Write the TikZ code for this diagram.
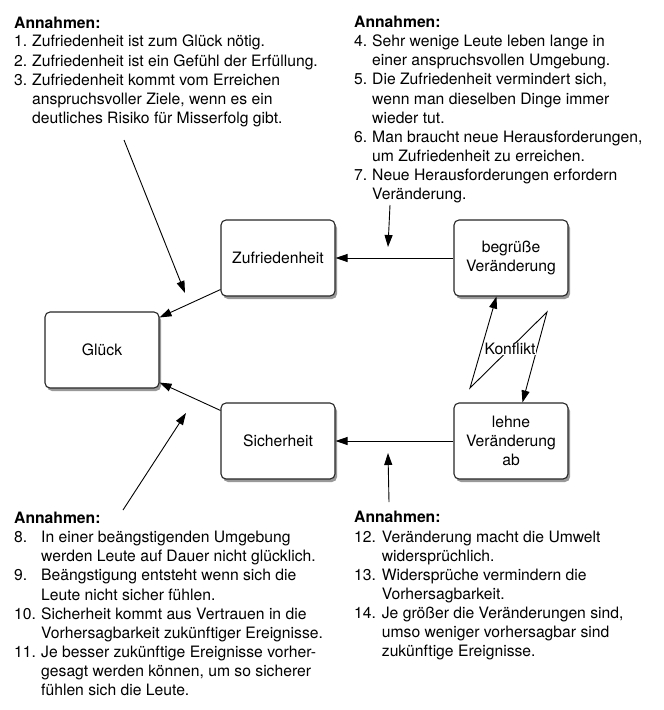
\documentclass[tikz,border=0pt]{standalone}
\usepackage{fontspec}
\setmainfont{TeX Gyre Heros}
\usetikzlibrary{arrows.meta,shadows}
\newcommand{\dfont}{\fontsize{15.7pt}{19pt}\selectfont}
\begin{document}
\begin{tikzpicture}[x=1pt,y=-1pt,
  box/.style={draw=black!85, line width=1.1pt, rounded corners=5pt, fill=white,
    minimum width=114pt, minimum height=76pt, align=center, font=\dfont, inner sep=2pt,
    drop shadow={shadow xshift=2pt, shadow yshift=-3pt, opacity=0.4, fill=black}},
  arr/.style={-{Triangle[length=12pt,width=8pt]}, line width=0.9pt},
  dbl/.style={{Triangle[length=12pt,width=8pt]}-{Triangle[length=12pt,width=8pt]}, line width=0.9pt},
  txt/.style={anchor=base west, inner sep=0pt, font=\dfont},
  hd/.style={txt, font=\dfont\bfseries},
]
\useasboundingbox (0,0) rectangle (664,710);

% boxes
\node[box] (gl) at (102,350) {Glück};
\node[box] (zuf) at (278,258) {Zufriedenheit};
\node[box] (sic) at (278,441) {Sicherheit};
\node[box] (beg) at (511,258) {begrüße\\Veränderung};
\node[box] (leh) at (511,441) {lehne\\Veränderung\\ab};

% connectors
\draw[arr] (beg.west) -- (zuf.east);
\draw[arr] (leh.west) -- (sic.east);
\draw[arr] ([yshift=7pt]zuf.south west) -- ([yshift=-6pt]gl.north east);
\draw[arr] ([yshift=-8pt]sic.north west) -- ([yshift=6pt]gl.south east);

% annotation arrows
\coordinate (a1s) at (124,140); \coordinate (a1e) at (185,293);
\coordinate (a2s) at (390,205); \coordinate (a2e) at (388,247);
\coordinate (a3s) at (123,510); \coordinate (a3e) at (186,413);
\coordinate (a4s) at (389,502); \coordinate (a4e) at (388,453);
\draw[arr] (a1s) -- (a1e);
\draw[arr] (a2s) -- (a2e);
\draw[arr] (a3s) -- (a3e);
\draw[arr] (a4s) -- (a4e);

% conflict
\coordinate (k1) at (470,388); \coordinate (k2) at (547,312);
\draw[dbl] ([xshift=43pt]beg.south west) -- (k1) -- (k2) -- ([xshift=69pt]leh.north west);
\node[fill=white, inner sep=0.3pt, font=\dfont] (konf) at (510,349) {Konflikt};

% top-left assumptions
\node[hd] (h1) at (14,28) {Annahmen:};
\node[txt] (t1) at (14,46.7) {\makebox[18pt][l]{1.}Zufriedenheit ist zum Glück nötig.};
\node[txt] (t2) at (14,66) {\makebox[18pt][l]{2.}Zufriedenheit ist ein Gefühl der Erfüllung.};
\node[txt] (t3) at (14,85.3) {\makebox[18pt][l]{3.}Zufriedenheit kommt vom Erreichen};
\node[txt] (t3b) at (32,104.6) {anspruchsvoller Ziele, wenn es ein};
\node[txt] (t3c) at (32,123.9) {deutliches Risiko für Misserfolg gibt.};

% top-right assumptions
\node[hd] (h2) at (354,27.7) {Annahmen:};
\node[txt] (r4) at (354,46.7) {\makebox[18pt][l]{4.}Sehr wenige Leute leben lange in};
\node[txt] (r4b) at (372,65.8) {einer anspruchsvollen Umgebung.};
\node[txt] (r5) at (354,84.9) {\makebox[18pt][l]{5.}Die Zufriedenheit vermindert sich,};
\node[txt] (r5b) at (372,104) {wenn man dieselben Dinge immer};
\node[txt] (r5c) at (372,123.1) {wieder tut.};
\node[txt] (r6) at (354,142.2) {\makebox[18pt][l]{6.}Man braucht neue Herausforderungen,};
\node[txt] (r6b) at (372,161.3) {um Zufriedenheit zu erreichen.};
\node[txt] (r7) at (354,180.4) {\makebox[18pt][l]{7.}Neue Herausforderungen erfordern};
\node[txt] (r7b) at (372,199.5) {Veränderung.};

% bottom-left assumptions
\node[hd] (h3) at (14,523.3) {Annahmen:};
\node[txt] (b8) at (14,542.7) {\makebox[27pt][l]{8.}In einer beängstigenden Umgebung};
\node[txt] (b8b) at (41,561.8) {werden Leute auf Dauer nicht glücklich.};
\node[txt] (b9) at (14,580.9) {\makebox[27pt][l]{9.}Beängstigung entsteht wenn sich die};
\node[txt] (b9b) at (41,600) {Leute nicht sicher fühlen.};
\node[txt] (b10) at (14,619.1) {\makebox[27pt][l]{10.}Sicherheit kommt aus Vertrauen in die};
\node[txt] (b10b) at (41,638.2) {Vorhersagbarkeit zukünftiger Ereignisse.};
\node[txt] (b11) at (14,657.3) {\makebox[27pt][l]{11.}Je besser zukünftige Ereignisse vorher-};
\node[txt] (b11b) at (41,676.4) {gesagt werden können, um so sicherer};
\node[txt] (b11c) at (41,695.5) {fühlen sich die Leute.};

% bottom-right assumptions
\node[hd] (h4) at (354,522.7) {Annahmen:};
\node[txt] (c12) at (354,542) {\makebox[27.7pt][l]{12.}Veränderung macht die Umwelt};
\node[txt] (c12b) at (381.7,561.1) {widersprüchlich.};
\node[txt] (c13) at (354,580.2) {\makebox[27.7pt][l]{13.}Widersprüche vermindern die};
\node[txt] (c13b) at (381.7,599.3) {Vorhersagbarkeit.};
\node[txt] (c14) at (354,618.4) {\makebox[27.7pt][l]{14.}Je größer die Veränderungen sind,};
\node[txt] (c14b) at (381.7,637.5) {umso weniger vorhersagbar sind};
\node[txt] (c14c) at (381.7,656.6) {zukünftige Ereignisse.};
\end{tikzpicture}
\end{document}
